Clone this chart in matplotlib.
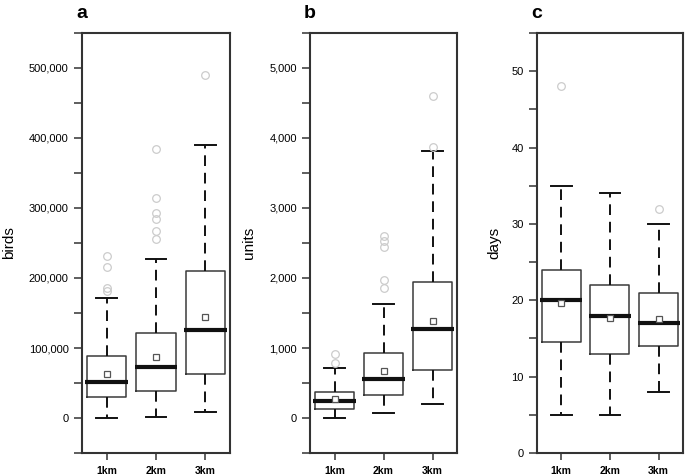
import numpy as np
import matplotlib
matplotlib.use("Agg")
import matplotlib.pyplot as plt
from matplotlib.ticker import MultipleLocator, FuncFormatter

plt.rcParams['font.family'] = ['Liberation Sans', 'DejaVu Sans']

groups = ['1km', '2km', '3km']

# panel a: birds
birds_q1 = [29500, 39000, 63300]
birds_med = [52000, 72400, 125600]
birds_q3 = [89000, 121900, 209600]
birds_lo = [0, 1400, 8600]
birds_hi = [171800, 227600, 390000]
birds_mean = [62400, 87600, 144000]
birds_out = [[231800, 215000, 186200, 180900],
             [384700, 314800, 293400, 283800, 267600, 256200],
             [490000]]

# panel b: units
units_q1 = [133, 323, 680]
units_med = [237, 561, 1271]
units_q3 = [366, 923, 1937]
units_lo = [0, 66, 204]
units_hi = [719, 1629, 3809]
units_mean = [271, 666, 1390]
units_out = [[919, 786],
             [2600, 2530, 2440, 1976, 1857],
             [4604, 3871]]

# panel c: days
days_q1 = [14.5, 13.0, 14.0]
days_med = [20.0, 18.0, 17.0]
days_q3 = [24.0, 22.0, 21.0]
days_lo = [5.0, 5.0, 8.0]
days_hi = [35.0, 34.0, 30.0]
days_mean = [19.7, 17.7, 17.6]
days_out = [[48.0], [], [32.0]]


def make_stats(q1, med, q3, lo, hi, mean, out):
    stats = []
    for i in range(len(groups)):
        stats.append(dict(q1=q1[i], med=med[i], q3=q3[i], whislo=lo[i],
                          whishi=hi[i], mean=mean[i], fliers=out[i], label=groups[i]))
    return stats


def draw_panel(ax, stats, ylabel, letter, ylim, major, minor, comma, lpad):
    res = ax.bxp(stats, positions=[1, 2, 3], widths=0.8, capwidths=0.42,
                 showmeans=True, patch_artist=False,
                 boxprops=dict(color='#3a3a3a', linewidth=1.1),
                 whiskerprops=dict(color='#111111', linewidth=1.4, linestyle=(0, (5.5, 3.5))),
                 capprops=dict(color='#111111', linewidth=1.4),
                 medianprops=dict(color='#111111', linewidth=3),
                 meanprops=dict(marker='s', markersize=4.5, markerfacecolor='white',
                                markeredgecolor='#555555', markeredgewidth=0.9),
                 flierprops=dict(marker='o', markersize=5.5, markerfacecolor='none',
                                 markeredgecolor='#cccccc', markeredgewidth=0.9))
    # medians stick out a little past the box
    for i, line in enumerate(res['medians']):
        line.set_xdata([i + 1 - 0.43, i + 1 + 0.43])
    ax.set_xlim(0.5, 3.5)
    ax.set_ylim(*ylim)
    ax.yaxis.set_major_locator(MultipleLocator(major))
    ax.yaxis.set_minor_locator(MultipleLocator(minor))
    if comma:
        ax.yaxis.set_major_formatter(FuncFormatter(lambda v, p: '{:,.0f}'.format(v)))
    ax.tick_params(axis='y', which='both', direction='out', length=5.5, width=1.1,
                   color='#333333', labelsize=8, pad=4)
    ax.tick_params(axis='x', direction='out', length=5, width=1.1,
                   color='#333333', labelsize=7.5, pad=4)
    for lab in ax.get_xticklabels():
        lab.set_fontweight('bold')
    for sp in ax.spines.values():
        sp.set_color('#333333')
        sp.set_linewidth(1.5)
    ax.set_ylabel(ylabel, fontsize=11, labelpad=lpad)
    ax.text(0.0, 1.036, letter, transform=ax.transAxes, fontsize=14,
            fontweight='bold', ha='center', va='baseline')


fig = plt.figure(figsize=(6.85, 4.76), dpi=100)
ax1 = fig.add_axes([0.1197, 0.0483, 0.2161, 0.8824])
ax2 = fig.add_axes([0.4526, 0.0483, 0.2146, 0.8824])
ax3 = fig.add_axes([0.7839, 0.0483, 0.2131, 0.8824])

draw_panel(ax1, make_stats(birds_q1, birds_med, birds_q3, birds_lo, birds_hi, birds_mean, birds_out),
           'birds', 'a', (-50000, 550000), 100000, 50000, True, 9.5)
draw_panel(ax2, make_stats(units_q1, units_med, units_q3, units_lo, units_hi, units_mean, units_out),
           'units', 'b', (-500, 5500), 1000, 500, True, 9.5)
draw_panel(ax3, make_stats(days_q1, days_med, days_q3, days_lo, days_hi, days_mean, days_out),
           'days', 'c', (0, 55), 10, 5, False, 7.5)

fig.savefig('out.png', dpi=100)
